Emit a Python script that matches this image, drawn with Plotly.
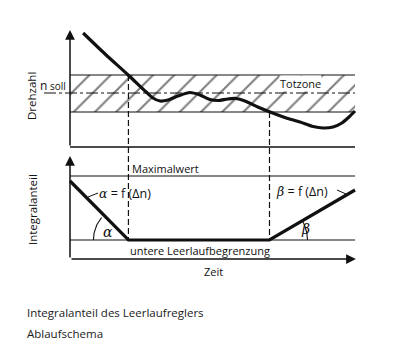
import numpy as np
import plotly.graph_objects as go

# ---------------- data (schematic units) ----------------
# time axis: 0 .. 100 ; speed axis n ; integral axis I
t_speed = [4.6, 12.3, 20.4, 26.7, 29.1, 31.6, 34.4, 37.9, 42.1, 45.6, 49.1, 51.9,
           55.4, 58.2, 61.4, 65.9, 70.2, 75.4, 80.7, 85.3, 88.8, 92.3, 95.4, 97.9, 100]
n_speed = [114, 93, 72, 55, 49, 46, 47, 51, 54.5, 52, 47.5, 46.5,
           48, 48.5, 46, 40, 35, 29.5, 25, 20.5, 19, 20, 24, 30, 36]

n_band_top = 72
n_band_bottom = 35
n_soll = 54
n_axis_top = 117

t_start, t_end = 0, 100
t1, t2 = 20.5, 70.0          # entering / leaving the dead zone

I_max = 83                    # Maximalwert
I_min = 19                    # untere Leerlaufbegrenzung
I_axis_top = 103
t_integral = [0, t1, t2, 100]
I_integral = [78, I_min, I_min, 69]

caption = ["Integralanteil des Leerlaufreglers", "Ablaufschema"]

# ---------------- layout helpers ----------------
OFF = 8                        # page body margin
W, H = 400 - 2 * OFF, 357 - 2 * OFF
PX_T = 2.85                    # px per time unit
X0 = 70                        # page px of t=0

def px_to_t(px):
    return (px - X0) / PX_T

xr = [px_to_t(OFF), px_to_t(OFF + W)]
yr = [147 - (OFF + H), 147 - OFF]          # upper axis: n = 147 - py
y2r = [259 - (OFF + H), 259 - OFF]         # lower axis: I = 259 - py
N_OFF = 112                                # n = I - 112

FONT = "Open Sans"
SERIF = "DejaVu Serif"
INK = "#111111"

fig = go.Figure()

# hatched dead zone
fig.add_trace(go.Scatter(
    x=[t_start, t_end, t_end, t_start, t_start],
    y=[n_band_bottom, n_band_bottom, n_band_top, n_band_top, n_band_bottom],
    mode="lines", fill="toself", line=dict(width=0),
    fillcolor="rgba(0,0,0,0)",
    fillpattern=dict(shape="/", size=15, solidity=0.14, fgcolor="#000000", bgcolor="white"),
    hoverinfo="skip", showlegend=False))

def hline(x0, x1, y, yref="y", width=1, dash="solid", color=INK):
    fig.add_shape(type="line", x0=x0, x1=x1, y0=y, y1=y, xref="x", yref=yref,
                  line=dict(color=color, width=width, dash=dash))

# upper panel lines
hline(t_start, t_end, n_band_top, width=1.2)
hline(t_start, t_end, n_band_bottom, width=1.2)
hline(px_to_t(44), t_end, n_soll, width=1, dash="12px,3px,3px,3px")
hline(t_start, t_end, 0, width=1.5)

# lower panel lines
hline(t_start, t_end, I_max, yref="y2", width=1.2)
hline(t_start, t_end, I_min, yref="y2", width=1.2)

# dashed verticals
for tt, ntop in [(t1, n_band_top), (t2, n_band_bottom)]:
    fig.add_shape(type="line", x0=tt, x1=tt, y0=ntop, y1=I_min - N_OFF,
                  xref="x", yref="y", line=dict(color=INK, width=1.2, dash="6px,3px"))

# speed curve
fig.add_trace(go.Scatter(x=t_speed, y=n_speed, mode="lines",
                         line=dict(color=INK, width=3.2, shape="spline", smoothing=0.7),
                         hoverinfo="skip", showlegend=False))
# integral curve
fig.add_trace(go.Scatter(x=t_integral, y=I_integral, mode="lines", yaxis="y2",
                         line=dict(color=INK, width=3.2),
                         hoverinfo="skip", showlegend=False))

# angle arcs (geometric decoration in pixel space)
def arc(cx_px, cy_px, r, a0, a1, yref):
    a = np.radians(np.linspace(a0, a1, 20))
    px = cx_px + r * np.cos(a)
    py = cy_px - r * np.sin(a)
    ys = (147 - py) if yref == "y" else (259 - py)
    fig.add_trace(go.Scatter(x=px_to_t(px), y=ys, mode="lines",
                             yaxis=yref, line=dict(color=INK, width=1.1),
                             hoverinfo="skip", showlegend=False))

arc(X0 + t1 * PX_T, 259 - I_min, 35, 140, 180, "y2")
arc(X0 + t2 * PX_T, 259 - I_min, 38, 0, 29, "y2")

# leader lines
fig.add_shape(type="line", x0=px_to_t(88), x1=px_to_t(98), y0=259 - 197, y1=259 - 193,
              xref="x", yref="y2", line=dict(color=INK, width=1))
fig.add_shape(type="line", x0=px_to_t(337), x1=px_to_t(346), y0=259 - 190, y1=259 - 194,
              xref="x", yref="y2", line=dict(color=INK, width=1))

# axis arrows
def arrow(x, y, ax, ay, yref):
    fig.add_annotation(x=x, y=y, ax=ax, ay=ay, xref="x", yref=yref, axref="x", ayref=yref,
                       showarrow=True, arrowhead=2, arrowsize=1.3, arrowwidth=1.5,
                       arrowcolor=INK, text="")

arrow(t_start, n_axis_top, t_start, 0, "y")
arrow(t_start, I_axis_top, t_start, 0, "y2")
arrow(t_end + 0.3, 0, t_start, 0, "y2")

# texts
def label(text, px, py, size=11.5, anchor="left", angle=0, color=INK, bg=None, family=FONT):
    fig.add_annotation(x=px_to_t(px), y=147 - py, xref="x", yref="y", text=text,
                       showarrow=False, xanchor=anchor, yanchor="middle", textangle=angle,
                       bgcolor=bg, borderpad=0,
                       font=dict(family=family, size=size, color=color))

alpha = f"<span style='font-family:{SERIF}'><i>α</i></span>"
beta = f"<span style='font-family:{SERIF}'><i>β</i></span>"

label("Drehzahl", 31, 96, size=11.5, anchor="center", angle=-90)
label("Integralanteil", 32, 210, size=11.5, anchor="center", angle=-90)
label("n<span style='font-size:10px'> soll</span>", 67, 85, size=12, anchor="right")
label("Totzone", 300, 83, size=11, anchor="center", bg="white")
label("Maximalwert", 131, 168, size=11)
label(alpha + " = f (Δn)", 98, 193, size=12.5)
label(beta + " = f (Δn)", 275, 191, size=12.5)
label(alpha, 102, 232, size=14, family=SERIF)
label(beta, 300, 229, size=14, family=SERIF)
label("untere Leerlaufbegrenzung", 129, 250, size=11)
label("Zeit", 203, 271, size=11)
label(caption[0], 26, 312, size=11.5, color="#1a1a1a")
label(caption[1], 26, 333, size=11.5, color="#1a1a1a")

fig.update_layout(
    width=W, height=H, margin=dict(l=0, r=0, t=0, b=0),
    paper_bgcolor="white", plot_bgcolor="white", showlegend=False,
    xaxis=dict(range=xr, domain=[0, 1], visible=False, fixedrange=True),
    yaxis=dict(range=yr, domain=[0, 1], visible=False, fixedrange=True),
    yaxis2=dict(range=y2r, domain=[0, 1], visible=False, overlaying="y", fixedrange=True),
)

fig.write_html("out.html")
